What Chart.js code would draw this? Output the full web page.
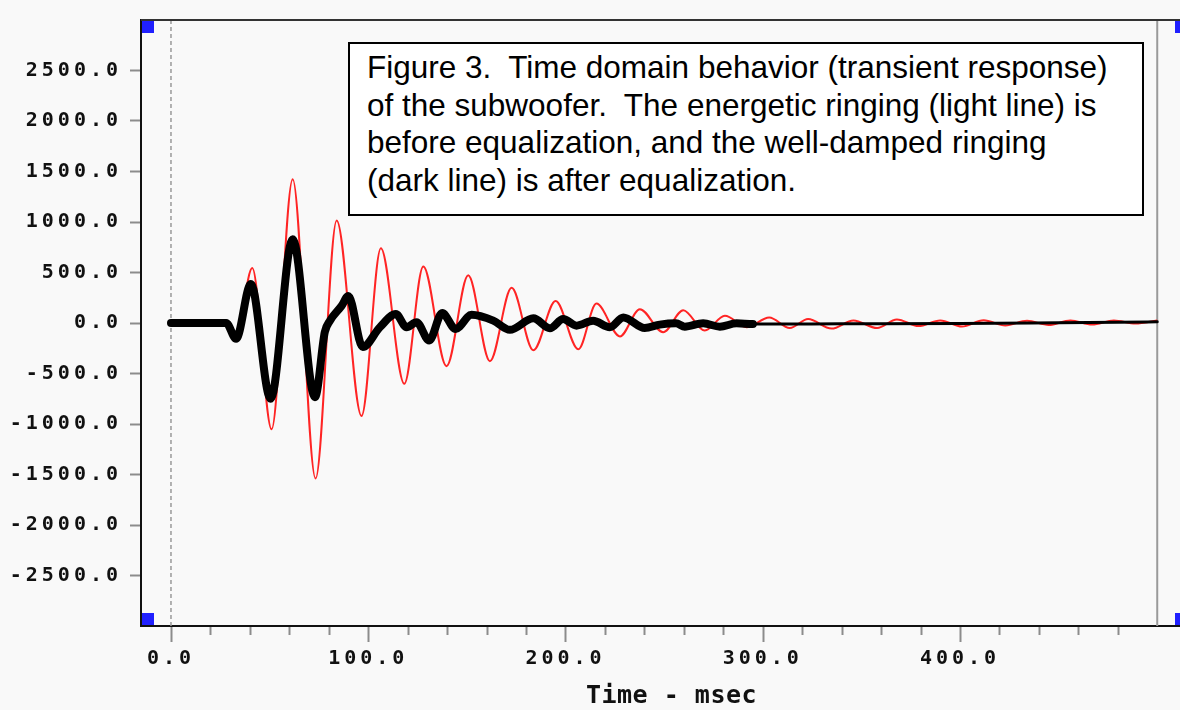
<!DOCTYPE html>
<html>
<head>
<meta charset="utf-8">
<title>Figure 3 - subwoofer transient response</title>
<script src="https://cdn.jsdelivr.net/npm/chart.js@4.4.1/dist/chart.umd.min.js"></script>
<style>
  html, body { margin: 0; padding: 0; overflow: hidden; background: #f9f9f9; }
  #wrap { position: relative; width: 1190px; height: 710px; }
  #note {
    position: absolute; left: 348px; top: 42px; width: 796px; height: 174px;
    box-sizing: border-box; border: 2px solid #000; background: #fff;
    padding: 5px 0 0 17px; color: #000; white-space: pre;
    font-family: "Liberation Sans", Arial, sans-serif; font-size: 31.5px; line-height: 37.5px;
  }
</style>
</head>
<body>
<div id="wrap">
  <canvas id="chart"></canvas>
  <div id="note">Figure 3.  Time domain behavior (transient response)
of the subwoofer.  The energetic ringing (light line) is
before equalization, and the well-damped ringing
(dark line) is after equalization.</div>
</div>
<script>
// red = before equalization (light line) at the turning points
const redTime = [0, 28, 33, 41.2, 51, 61.7, 73.3, 84, 96.6, 106.4, 118.3, 127.9, 139.7, 150.7, 161.7,
  172.7, 183.7, 195, 206.5, 215.7, 227.6, 237.7, 249.5, 259.7, 270.6, 280.8, 291.8, 303.3, 313.7,
  323, 334.9, 346, 358, 368, 379, 390, 401, 412, 423, 434, 445, 456, 467, 478, 489, 500];
const redValue = [0, 0, -150, 544, -1052, 1423, -1540, 1016, -921, 739, -602, 560, -427, 472, -378,
  348, -270, 218, -260, 192, -133, 137, -91, 127, -75, 71, -42, 55, -50,
  39, -55, 25, -50, 35, -30, 25, -35, 28, -25, 22, -20, 25, -15, 25, -5, 25];

// black = after equalization (dark line)
const blackTime = [0, 28, 33, 40.5, 50.5, 61.7, 73, 78, 80.6, 86.5, 89.9, 97.2, 105.9, 114, 119.4,
  124.5, 130.9, 137.5, 144.3, 152.4, 163.4, 171.8, 183.7, 192.1, 198.8, 205.6, 214, 222.5, 229.3,
  240.2, 247.8, 256, 260.5, 269.8, 278.3, 286.7, 295, 340, 400, 450, 500];
const blackValue = [0, 0, -156, 385, -750, 830, -735, -88, 23, 169, 267, -238, -42, 88, -42,
  7, -173, 98, -59, 81, 23, -68, 46, -52, 39, -26, 22, -42, 55,
  -49, -16, -3, -36, -3, -36, -3, -10, -8, -5, 3, 12];

const xTickValues = [0, 100, 200, 300, 400];
const xTickLabels = ["0.0", "100.0", "200.0", "300.0", "400.0"];
const yTickValues = [-2500, -2000, -1500, -1000, -500, 0, 500, 1000, 1500, 2000, 2500];
const yTickLabels = ["-2500.0", "-2000.0", "-1500.0", "-1000.0", "-500.0", "0.0",
  "500.0", "1000.0", "1500.0", "2000.0", "2500.0"];
const minorStep = 20;
const lastMinor = 480;
const markerTime = 500;

const monoFont = "'DejaVu Sans Mono', 'Liberation Mono', monospace";

// background, marker lines, tick marks, corner squares, axis title
const decorPlugin = {
  id: "decor",
  beforeDraw(chart) {
    const ctx = chart.ctx;
    ctx.save();
    ctx.fillStyle = "#f9f9f9";
    ctx.fillRect(0, 0, chart.width, chart.height);
    ctx.restore();
    ctx.letterSpacing = "4px"; // wide old-style tick labels
  },
  beforeDatasetsDraw(chart) {
    const ctx = chart.ctx;
    const a = chart.chartArea;
    const x = chart.scales.x;
    ctx.letterSpacing = "0px";
    ctx.save();
    // dashed line at t = 0
    ctx.strokeStyle = "#999";
    ctx.lineWidth = 1.5;
    ctx.setLineDash([4, 3]);
    let px = x.getPixelForValue(0);
    ctx.beginPath(); ctx.moveTo(px, a.top); ctx.lineTo(px, a.bottom); ctx.stroke();
    // solid marker at 500 ms
    ctx.setLineDash([]);
    ctx.lineWidth = 2;
    ctx.strokeStyle = "#9a9a9a";
    px = x.getPixelForValue(markerTime);
    ctx.beginPath(); ctx.moveTo(px, a.top); ctx.lineTo(px, a.bottom); ctx.stroke();
    ctx.restore();
  },
  afterDraw(chart) {
    const ctx = chart.ctx;
    const a = chart.chartArea;
    const x = chart.scales.x;
    ctx.save();
    // top frame line
    ctx.strokeStyle = "#333";
    ctx.lineWidth = 2;
    ctx.beginPath(); ctx.moveTo(a.left, a.top); ctx.lineTo(a.right, a.top); ctx.stroke();
    // x tick marks, long every 100 ms
    ctx.strokeStyle = "#8c8c8c";
    for (let v = 0; v <= lastMinor; v += minorStep) {
      const px = Math.round(x.getPixelForValue(v)) + 0.5;
      const len = v % 100 === 0 ? 15 : 8;
      ctx.beginPath(); ctx.moveTo(px, a.bottom + 1); ctx.lineTo(px, a.bottom + 1 + len); ctx.stroke();
    }
    // blue corner handles
    ctx.fillStyle = "#2020ff";
    ctx.fillRect(a.left + 1, a.top + 1, 12, 12);
    ctx.fillRect(a.left + 1, a.bottom - 13, 12, 12);
    ctx.fillRect(a.right - 13, a.top + 1, 12, 12);
    ctx.fillRect(a.right - 13, a.bottom - 13, 12, 12);
    // axis title
    ctx.letterSpacing = "0.5px";
    ctx.fillStyle = "#111";
    ctx.font = "bold 25px " + monoFont;
    ctx.textAlign = "center";
    ctx.textBaseline = "middle";
    ctx.fillText("Time - msec", (a.left + a.right) / 2 + 7, 696);
    ctx.restore();
  }
};

const ctx = document.getElementById("chart").getContext("2d");
new Chart(ctx, {
  type: "line",
  data: {
    datasets: [
      {
        label: "after equalization",
        data: blackTime.map((t, i) => ({ x: t, y: blackValue[i] })),
        borderColor: "#000",
        borderWidth: 8,
        borderJoinStyle: "round",
        borderCapStyle: "round",
        pointRadius: 0,
        cubicInterpolationMode: "monotone",
        order: 1,
        segment: {
          borderWidth: (c) => (c.p0.parsed.x >= 295 ? 3 : 8)
        }
      },
      {
        label: "before equalization",
        data: redTime.map((t, i) => ({ x: t, y: redValue[i] })),
        borderColor: "#ff2424",
        borderWidth: 2,
        pointRadius: 0,
        cubicInterpolationMode: "monotone",
        order: 2
      }
    ]
  },
  options: {
    responsive: true,
    maintainAspectRatio: false,
    animation: false,
    layout: { padding: { top: 12, right: 2, left: 0, bottom: 0 } },
    plugins: { legend: { display: false }, tooltip: { enabled: false } },
    scales: {
      x: {
        type: "linear",
        min: -15.2,
        max: 515.6,
        afterBuildTicks: (s) => { s.ticks = xTickValues.map((v) => ({ value: v })); },
        afterFit: (s) => { s.height = 84; },
        grid: { display: true, drawOnChartArea: false, drawTicks: false },
        border: { display: true, color: "#111", width: 2 },
        ticks: {
          autoSkip: false,
          maxRotation: 0,
          padding: 21,
          color: "#111",
          font: { family: monoFont, weight: "bold", size: 20 },
          callback: (v) => xTickLabels[xTickValues.indexOf(v)]
        }
      },
      y: {
        type: "linear",
        min: -3000,
        max: 3000,
        afterBuildTicks: (s) => { s.ticks = yTickValues.map((v) => ({ value: v })); },
        afterFit: (s) => { s.width = 141; },
        grid: { display: true, drawOnChartArea: false, drawTicks: true, tickLength: 11, tickColor: "#8c8c8c", tickWidth: 2 },
        border: { display: true, color: "#111", width: 2 },
        ticks: {
          autoSkip: false,
          padding: 8,
          color: "#111",
          font: { family: monoFont, weight: "bold", size: 20 },
          callback: (v) => yTickLabels[yTickValues.indexOf(v)]
        }
      }
    }
  },
  plugins: [decorPlugin]
});
</script>
</body>
</html>
